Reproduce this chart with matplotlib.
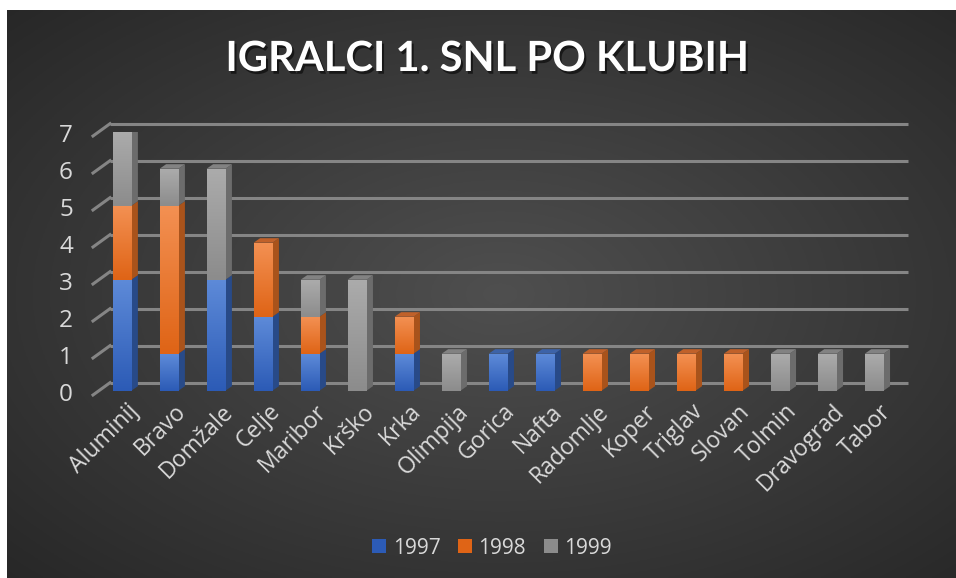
import numpy as np
import matplotlib
matplotlib.use("Agg")
import matplotlib.pyplot as plt
from matplotlib.colors import LinearSegmentedColormap, to_rgb
from matplotlib.patches import Polygon, Patch
import matplotlib.patheffects as pe

plt.rcParams['font.family'] = ['Open Sans', 'DejaVu Sans']

# ---- data ----
clubs = ["Aluminij", "Bravo", "Domžale", "Celje", "Maribor", "Krško", "Krka",
         "Olimpija", "Gorica", "Nafta", "Radomlje", "Koper", "Triglav", "Slovan",
         "Tolmin", "Dravograd", "Tabor"]
y1997 = [3, 1, 3, 2, 1, 0, 1, 0, 1, 1, 0, 0, 0, 0, 0, 0, 0]
y1998 = [2, 4, 0, 2, 1, 0, 1, 0, 0, 0, 1, 1, 1, 1, 0, 0, 0]
y1999 = [2, 1, 3, 0, 1, 3, 0, 1, 0, 0, 0, 0, 0, 0, 1, 1, 1]
series_names = ["1997", "1998", "1999"]
yticks = [0, 1, 2, 3, 4, 5, 6, 7]
title = "IGRALCI 1. SNL PO KLUBIH"

# ---- style ----
W, H = 956, 578
DPI = 100
fig = plt.figure(figsize=(W / DPI, H / DPI), dpi=DPI, facecolor="white")

# background radial gradient
bg = fig.add_axes([0, 0, 1, 1])
bg.set_xlim(0, W)
bg.set_ylim(0, H)
bg.axis("off")
gx, gy = np.meshgrid(np.linspace(0, 1, 400), np.linspace(0, 1, 250))
r = np.sqrt(((gx - 0.52) / 0.75) ** 2 + ((gy - 0.5) / 0.75) ** 2)
r = np.clip(r, 0, 1)
c_in = np.array(to_rgb("#4f4f4f"))
c_out = np.array(to_rgb("#262626"))
img = c_in[None, None, :] * (1 - r[..., None]) + c_out[None, None, :] * r[..., None]
bg.imshow(img, extent=[7, W, 0, H - 10], aspect="auto", origin="lower", zorder=0)

# main axes: front face of bars
ax_left, ax_right = 93, 908
ax_bot, ax_top = 390.7, 131.7
ax = fig.add_axes([ax_left / W, (H - ax_bot) / H, (ax_right - ax_left) / W, (ax_bot - ax_top) / H])
ax.patch.set_alpha(0)
for s in ax.spines.values():
    s.set_visible(False)
ax.set_xticks([])
ax.set_yticks([])

n = len(clubs)
x = np.arange(n)
xlo, xhi = -0.617, 16.72
ylo, yhi = 0, 7
pxx = (ax_right - ax_left) / (xhi - xlo)
pxy = (ax_bot - ax_top) / (yhi - ylo)

grid_col = "#858585"
txt_col = "#d9d9d9"
fs = 16.5

# gridlines (back wall) and diagonal floor/side edges
front_dy = -4.3 / pxy
back_dy = 8.0 / pxy
side_dx = 17.0 / pxx
for v in yticks:
    ax.plot([xlo + side_dx, xhi], [v + back_dy, v + back_dy], color=grid_col, lw=2.2,
            solid_capstyle="butt", zorder=1, clip_on=False)
    ax.plot([xlo, xlo + side_dx], [v + front_dy, v + back_dy], color=grid_col, lw=2.2,
            zorder=1, clip_on=False)
    ax.text(xlo - 20 / pxx, v + front_dy, str(v), ha="right", va="center",
            color=txt_col, fontsize=17.5)

# colors: (top of gradient, bottom of gradient, side, top face)
palette = [
    ("#5d8ad8", "#2c5bb6", "#284a88", "#3d63a8"),
    ("#f39052", "#df6416", "#a9531b", "#c0612a"),
    ("#ababab", "#8c8c8c", "#6c6c6c", "#828282"),
]
bw = 0.40
ddx = 6.5 / pxx
ddy = 4.5 / pxy

series = [y1997, y1998, y1999]
bottoms = np.zeros(n)
tops_total = np.sum(series, axis=0)
for si, vals in enumerate(series):
    vals = np.array(vals, dtype=float)
    ctop, cbot, cside, ctopface = palette[si]
    bars = ax.bar(x, vals, bw, bottom=bottoms, color=cbot, linewidth=0, zorder=3)
    cmap = LinearSegmentedColormap.from_list("g%d" % si, [cbot, ctop])
    for i, rect in enumerate(bars):
        if vals[i] <= 0:
            continue
        b = bottoms[i]
        t = b + vals[i]
        xl, xr = x[i] - bw / 2, x[i] + bw / 2
        im = ax.imshow(np.linspace(0, 1, 64)[:, None], cmap=cmap, origin="lower",
                       extent=[xl, xr, b, t], aspect="auto", zorder=3.1)
        im.set_clip_path(rect)
        side = Polygon([[xr, b], [xr + ddx, b + ddy], [xr + ddx, t + ddy], [xr, t]],
                       closed=True, facecolor=cside, edgecolor="none", zorder=3)
        ax.add_patch(side)
        if abs(t - tops_total[i]) < 1e-9:
            top = Polygon([[xl, t], [xl + ddx, t + ddy], [xr + ddx, t + ddy], [xr, t]],
                          closed=True, facecolor=ctopface, edgecolor="none", zorder=3)
            ax.add_patch(top)
    bottoms = bottoms + vals

ax.set_xlim(xlo, xhi)
ax.set_ylim(ylo, yhi)

# category labels
for i, name in enumerate(clubs):
    ax.text(x[i] + 5 / pxx, -9 / pxy, name, rotation=45, rotation_mode="anchor",
            ha="right", va="top", color=txt_col, fontsize=fs)

# title
fig.text(487 / W, 1 - 59 / H, title, ha="center", va="center", color="white",
         fontsize=30, fontweight="bold", family=["Lato", "DejaVu Sans"],
         path_effects=[pe.SimplePatchShadow(offset=(1.5, -2), shadow_rgbFace="black", alpha=0.55),
                       pe.Normal()])

# legend
handles = [Patch(facecolor=palette[k][1], edgecolor="none") for k in range(3)]
leg = fig.legend(handles, series_names, loc="center", bbox_to_anchor=(492 / W, 1 - 548 / H),
                 ncol=3, frameon=False, fontsize=15, labelcolor=txt_col,
                 handlelength=0.67, handleheight=0.67, handletextpad=0.3, columnspacing=0.85)

fig.savefig("out.png", dpi=DPI, facecolor="white")
